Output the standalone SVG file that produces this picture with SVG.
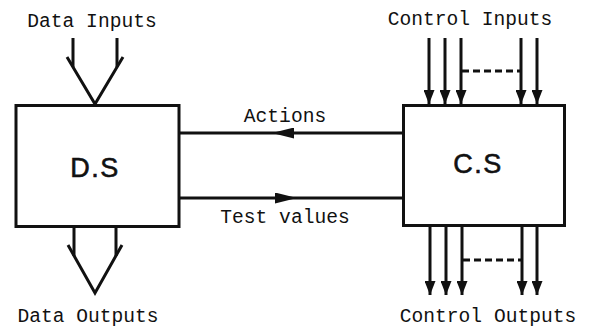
<svg xmlns="http://www.w3.org/2000/svg" width="590" height="330" viewBox="0 0 590 330">
<style>
.lbl{font-family:"Liberation Mono","DejaVu Sans Mono",monospace;font-size:19.6px;fill:#111}
.box{fill:#fff;stroke:#111;stroke-width:3}
.big{font-family:"Liberation Sans",Arial,sans-serif;font-size:27px;fill:#111;stroke:#111;stroke-width:0.6;text-anchor:middle;letter-spacing:1.5px}
.ln{fill:none;stroke:#111;stroke-width:3}
.dash{fill:none;stroke:#111;stroke-width:3;stroke-dasharray:7,4}
.ctl{fill:none;stroke:#111;stroke-width:3;marker-end:url(#tri)}
</style>
<defs>
<marker id="tri" markerUnits="userSpaceOnUse" markerWidth="14" markerHeight="11" refX="14" refY="5.5" orient="auto">
<path d="M0,0 L14,5.5 L0,11 z" fill="#111"/>
</marker>
<marker id="mid" markerUnits="userSpaceOnUse" markerWidth="22" markerHeight="11" refX="22" refY="5.5" orient="auto">
<path d="M0,0 L22,5.5 L0,11 z" fill="#111"/>
</marker>
</defs>
<rect width="590" height="330" fill="#fff"/>
<g id="connectors">
<path class="ln" d="M402,133 L272,133 L179,133" style="marker-mid:url(#mid)"/>
<path class="ln" d="M179,198 L297,198 L402,198" style="marker-mid:url(#mid)"/>
<text class="lbl" x="285" y="122" text-anchor="middle">Actions</text>
<text class="lbl" x="285" y="223" text-anchor="middle">Test values</text>
</g>
<g id="data-inputs">
<text class="lbl" x="92" y="27" text-anchor="middle">Data Inputs</text>
<path class="ln" d="M73,38 V67 M117,38 V67"/>
<path class="ln" d="M67,57 L95,104 L123,57" stroke-linejoin="miter"/>
</g>
<g id="data-outputs">
<path class="ln" d="M74,227 V256 M116,227 V256"/>
<path class="ln" d="M68,245 L95,293 L122,245"/>
<text class="lbl" x="88" y="322" text-anchor="middle">Data Outputs</text>
</g>
<g id="ds">
<rect class="box" x="16" y="105.5" width="163" height="121"/>
<text class="big" x="95" y="177">D.S</text>
</g>
<g id="cs">
<rect class="box" x="403.5" y="105.5" width="161" height="120"/>
<text class="big" x="478" y="173">C.S</text>
</g>
<g id="control-inputs">
<text class="lbl" x="470" y="25" text-anchor="middle">Control Inputs</text>
<path class="ctl" d="M429,38 V104"/>
<path class="ctl" d="M445,38 V104"/>
<path class="ctl" d="M461,38 V104"/>
<path class="ctl" d="M521,38 V104"/>
<path class="ctl" d="M537,38 V104"/>
<path class="dash" d="M462,71 H520"/>
</g>
<g id="control-outputs">
<path class="ctl" d="M430,227 V295"/>
<path class="ctl" d="M446,227 V295"/>
<path class="ctl" d="M462,227 V295"/>
<path class="ctl" d="M522,227 V295"/>
<path class="ctl" d="M537,227 V295"/>
<path class="dash" d="M463,260 H521"/>
<text class="lbl" x="488" y="322" text-anchor="middle">Control Outputs</text>
</g>
</svg>
